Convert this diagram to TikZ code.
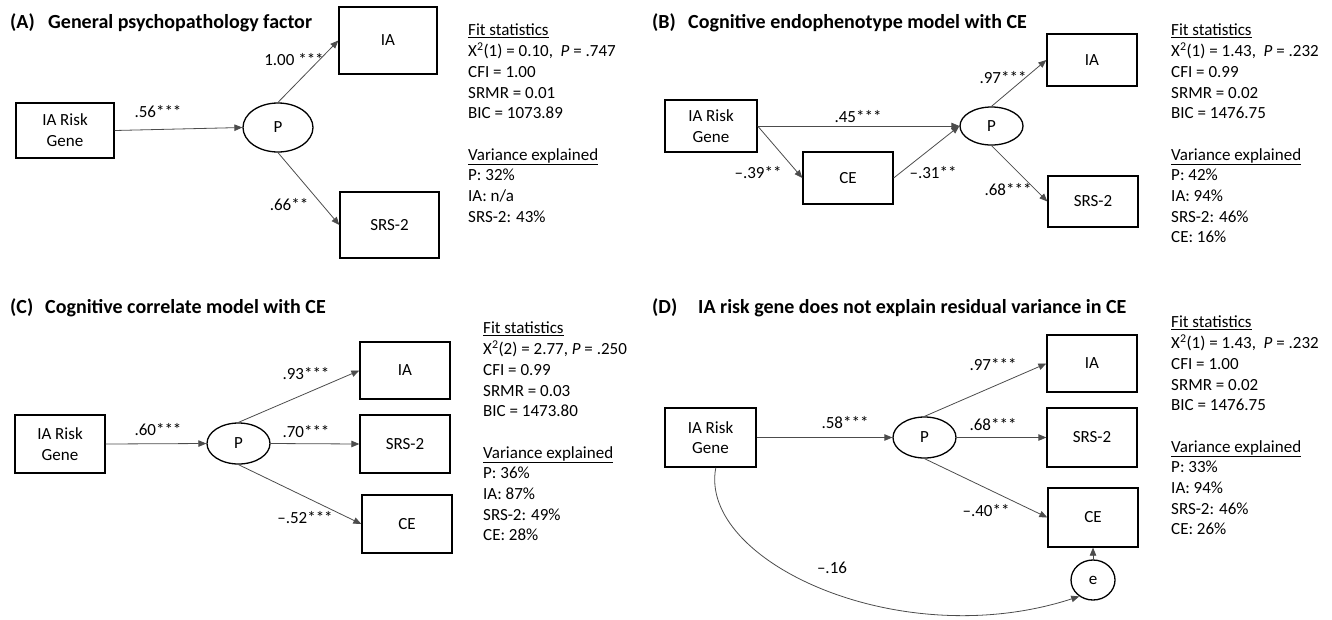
\documentclass[tikz,border=0pt]{standalone}
\usepackage{fontspec}
\setmainfont{Carlito}
\usetikzlibrary{arrows.meta,shapes.geometric}
\newcommand{\figfs}{\fontsize{17}{20.7}\selectfont}
\newcommand{\figttl}{\fontsize{20}{24}\selectfont\bfseries}
\begin{document}
\begin{tikzpicture}[x=1pt,y=-1pt,
  box/.style={draw, line width=1.3pt, inner sep=0pt, align=center, font=\figfs},
  lat/.style={draw, ellipse, line width=1.3pt, inner sep=0pt, font=\figfs},
  arr/.style={draw=black!70, line width=0.8pt, -{Triangle[length=8pt,width=6.5pt]}},
  lbl/.style={font=\figfs, inner sep=0pt},
  ttl/.style={font=\figttl, anchor=west, inner sep=0pt},
  stats/.style={font=\figfs, align=left, anchor=north west, inner sep=0pt}]
\useasboundingbox (0,0) rectangle (1332,619);

% ---------- Panel A ----------
\node[ttl] (tA) at (10,23) {\makebox[38pt][l]{(A)}General psychopathology factor};
\node[box, minimum width=98pt, minimum height=55pt] (gA) at (65,130.5) {IA Risk\\Gene};
\node[lat, minimum width=70pt, minimum height=49pt] (pA) at (278,127.5) {P};
\node[box, minimum width=98pt, minimum height=67pt] (iaA) at (388,40.5) {IA};
\node[box, minimum width=99pt, minimum height=66pt] (srsA) at (389.5,225) {SRS-2};
\draw[arr] (gA.east) -- (pA.west);
\draw[arr] (pA.north) -- (iaA.west);
\draw[arr] (pA.south) -- (srsA.west);
\node[lbl] (lA1) at (158,112) {.56***};
\node[lbl] (lA2) at (294,60) {1.00 ***};
\node[lbl] (lA3) at (289,205) {.66**};
\node[stats] (sA) at (468,24) {\underline{Fit statistics}\\
X\textsuperscript{2}(1) = 0.10,\ \ \textit{P} = .747\\
CFI = 1.00\\
SRMR = 0.01\\
BIC = 1073.89\\[20.7pt]
\underline{Variance explained}\\
P: 32\%\\
IA: n/a\\
SRS-2: 43\%};

% ---------- Panel B ----------
\node[ttl] (tB) at (652,23) {\makebox[36pt][l]{(B)}Cognitive endophenotype model with CE};
\node[box, minimum width=92pt, minimum height=52pt] (gB) at (711,126) {IA Risk\\Gene};
\node[box, minimum width=90pt, minimum height=52pt] (ceB) at (848,178) {CE};
\node[lat, minimum width=63pt, minimum height=38pt] (pB) at (991.5,126) {P};
\node[box, minimum width=90pt, minimum height=52pt] (iaB) at (1092,60) {IA};
\node[box, minimum width=90pt, minimum height=51pt] (srsB) at (1093,201.5) {SRS-2};
\draw[arr] (gB.east) -- (pB.west);
\draw[arr] (gB.east) -- (ceB.west);
\draw[arr] (ceB.east) -- (pB.west);
\draw[arr] (pB.north) -- (iaB.west);
\draw[arr] (pB.south) -- (srsB.west);
\node[lbl] (lB1) at (858,117) {.45***};
\node[lbl] (lB2) at (758,173) {–.39**};
\node[lbl] (lB3) at (933,173) {–.31**};
\node[lbl] (lB4) at (1003,78) {.97***};
\node[lbl] (lB5) at (1008,190) {.68***};
\node[stats] (sB) at (1171,24) {\underline{Fit statistics}\\
X\textsuperscript{2}(1) = 1.43,\ \ \textit{P} = .232\\
CFI = 0.99\\
SRMR = 0.02\\
BIC = 1476.75\\[20.7pt]
\underline{Variance explained}\\
P: 42\%\\
IA: 94\%\\
SRS-2: 46\%\\
CE: 16\%};

% ---------- Panel C ----------
\node[ttl] (tC) at (10,308) {\makebox[35pt][l]{(C)}Cognitive correlate model with CE};
\node[box, minimum width=90pt, minimum height=58pt] (gC) at (60,444) {IA Risk\\Gene};
\node[lat, minimum width=63pt, minimum height=41pt] (pC) at (238.5,443.5) {P};
\node[box, minimum width=90pt, minimum height=57pt] (iaC) at (405,370.5) {IA};
\node[box, minimum width=90pt, minimum height=58pt] (srsC) at (405,444) {SRS-2};
\node[box, minimum width=90pt, minimum height=58pt] (ceC) at (407,524) {CE};
\draw[arr] (gC.east) -- (pC.west);
\draw[arr] (pC.north) -- (iaC.west);
\draw[arr] (pC.east) -- (srsC.west);
\draw[arr] (pC.south) -- (ceC.west);
\node[lbl] (lC1) at (158,430) {.60***};
\node[lbl] (lC2) at (306,374) {.93***};
\node[lbl] (lC3) at (306,432) {.70***};
\node[lbl] (lC4) at (305,518) {–.52***};
\node[stats] (sC) at (483,322) {\underline{Fit statistics}\\
X\textsuperscript{2}(2) = 2.77, \textit{P} = .250\\
CFI = 0.99\\
SRMR = 0.03\\
BIC = 1473.80\\[20.7pt]
\underline{Variance explained}\\
P: 36\%\\
IA: 87\%\\
SRS-2: 49\%\\
CE: 28\%};

% ---------- Panel D ----------
\node[ttl] (tD) at (652,308) {\makebox[46pt][l]{(D)}IA risk gene does not explain residual variance in CE};
\node[box, minimum width=91pt, minimum height=59pt] (gD) at (710.5,437.5) {IA Risk\\Gene};
\node[lat, minimum width=63pt, minimum height=41pt] (pD) at (924.5,437.5) {P};
\node[box, minimum width=90pt, minimum height=57pt] (iaD) at (1092,363.5) {IA};
\node[box, minimum width=90pt, minimum height=59pt] (srsD) at (1092,437.5) {SRS-2};
\node[box, minimum width=90pt, minimum height=59pt] (ceD) at (1093,517.5) {CE};
\node[lat, minimum width=44pt, minimum height=40pt] (eD) at (1093,580) {e};
\draw[arr] (gD.east) -- (pD.west);
\draw[arr] (pD.north) -- (iaD.west);
\draw[arr] (pD.east) -- (srsD.west);
\draw[arr] (pD.south) -- (ceD.west);
\draw[arr] (eD.north) -- (ceD.south);
\draw[arr] (gD.-80) .. controls +(101:95) and +(162:189) .. (eD.230);
\node[lbl] (lD1) at (845,423) {.58***};
\node[lbl] (lD2) at (993,365) {.97***};
\node[lbl] (lD3) at (993,425) {.68***};
\node[lbl] (lD4) at (986,511) {–.40**};
\node[lbl] (lD5) at (832,568) {–.16};
\node[stats] (sD) at (1171,316) {\underline{Fit statistics}\\
X\textsuperscript{2}(1) = 1.43,\ \ \textit{P} = .232\\
CFI = 1.00\\
SRMR = 0.02\\
BIC = 1476.75\\[20.7pt]
\underline{Variance explained}\\
P: 33\%\\
IA: 94\%\\
SRS-2: 46\%\\
CE: 26\%};
\end{tikzpicture}
\end{document}
